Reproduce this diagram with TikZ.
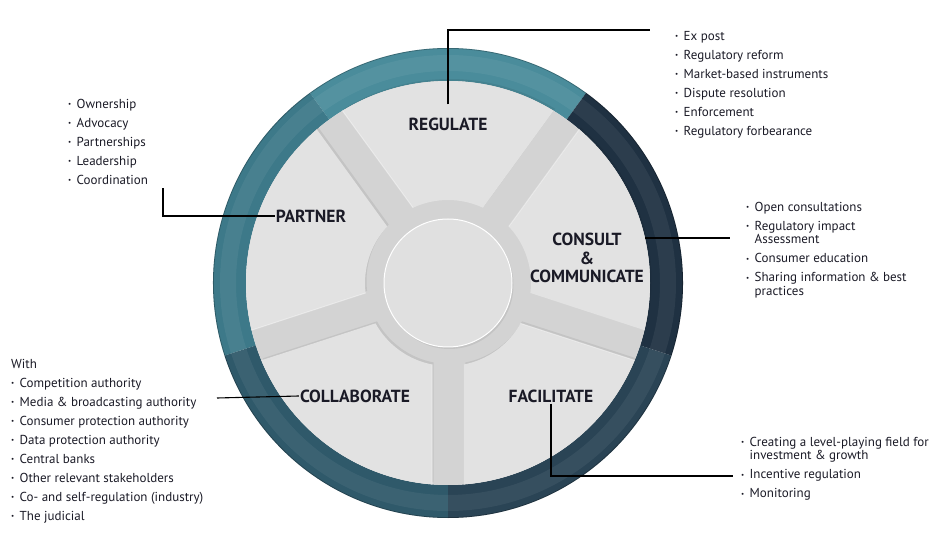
\documentclass[tikz,border=0pt]{standalone}
\usepackage{fontspec}
\setmainfont{PT Sans}
\usetikzlibrary{positioning}

\definecolor{ringA}{HTML}{4A8C9B}
\definecolor{ringB}{HTML}{3D7989}
\definecolor{ringC}{HTML}{2F596A}
\definecolor{ringD}{HTML}{2A4455}
\definecolor{ringE}{HTML}{1F3142}
\definecolor{segc}{HTML}{E2E2E2}
\definecolor{backc}{HTML}{D3D3D3}
\definecolor{centerc}{HTML}{E0E0E0}
\definecolor{txtc}{HTML}{1A1A26}

\newcommand{\bul}{\makebox[8.5pt][l]{\raisebox{0.25ex}{\fontsize{7}{7}\selectfont\textbullet}}}
\newcommand{\cont}{\hspace*{8.5pt}}

\tikzset{
  lbl/.style={font=\fontsize{17.5}{18.5}\selectfont\bfseries, text=txtc, align=center, inner sep=1pt},
  blist/.style={font=\fontsize{13}{19}\selectfont, text=txtc, align=left, inner sep=0pt, anchor=north west},
  lead/.style={line width=1.1pt, black},
}

\begin{document}
\begin{tikzpicture}[x=1pt,y=-1pt]
  \useasboundingbox (0,0) rectangle (930,545);

  % wheel
  \begin{scope}[shift={(448,283)}, yscale=-1]
    % outer ring, one shade per sector
    \foreach \a/\c in {54/ringA,126/ringB,198/ringC,270/ringD,342/ringE}
      \fill[\c] (\a:235) arc[start angle=\a, end angle=\a+72, radius=235] -- (\a+72:202) arc[start angle=\a+72, end angle=\a, radius=202] -- cycle;
    \fill[white, opacity=0.06, even odd rule] (0,0) circle (228) (0,0) circle (212);
    \draw[black, opacity=0.25, line width=0.8pt] (0,0) circle (234.6);
    % grey plate
    \fill[backc] (0,0) circle (202);
    % segments
    \foreach \a in {54,126,198,270,342} {
      \fill[black, opacity=0.07, xshift=1.5, yshift=-2] (\a+4.5:202) arc[start angle=\a+4.5, end angle=\a+67.5, radius=202] -- (\a+60.9:83) arc[start angle=\a+60.9, end angle=\a+11.1, radius=83] -- cycle;
      \fill[segc] (\a+4.5:202) arc[start angle=\a+4.5, end angle=\a+67.5, radius=202] -- (\a+60.9:83) arc[start angle=\a+60.9, end angle=\a+11.1, radius=83] -- cycle;
      \draw[white, opacity=0.4, line width=1pt] (\a+60.9:83) -- (\a+67.5:202);
    }
    % centre disc
    \fill[black, opacity=0.07] (1.5,-2) circle (64);
    \fill[centerc] (0,0) circle (64);
    \draw[white, line width=1pt] (0,0) circle (64);
  \end{scope}

  % labels
  \node[lbl] (regulate) at (448,124) {REGULATE};
  \node[lbl] (partner) at (311,216) {PARTNER};
  \node[lbl] (consult) at (587,258) {CONSULT\\\&\\COMMUNICATE};
  \node[lbl] (collab) at (355,396) {COLLABORATE};
  \node[lbl] (facil) at (551,396) {FACILITATE};

  % lists
  \node[blist] (regList) at (675,31) {\bul Ex post\\\bul Regulatory reform\\\bul Market-based instruments\\\bul Dispute resolution\\\bul Enforcement\\\bul Regulatory forbearance};
  \node[blist] (partList) at (68,99) {\bul Ownership\\\bul Advocacy\\\bul Partnerships\\\bul Leadership\\\bul Coordination};
  \node[blist] (consList) at (746,202) {\bul Open consultations\\\bul Regulatory impact\\[-5.5pt]\cont Assessment\\\bul Consumer education\\\bul Sharing information \& best\\[-5.5pt]\cont practices};
  \node[blist] (collList) at (11,359) {With\\\bul Competition authority\\\bul Media \& broadcasting authority\\\bul Consumer protection authority\\\bul Data protection authority\\\bul Central banks\\\bul Other relevant stakeholders\\\bul Co- and self-regulation (industry)\\\bul The judicial};
  \node[blist] (facList) at (741,437) {\bul Creating a level-playing field for\\[-5.5pt]\cont investment \& growth\\\bul Incentive regulation\\\bul Monitoring};

  % leaders
  \coordinate (regEnd) at (650,30);
  \coordinate (partEnd) at (163,188);
  \coordinate (consEnd) at (730,238);
  \coordinate (collEnd) at (217,398);
  \coordinate (facEnd) at (733,476);
  \draw[lead] ([yshift=12pt]regulate.north) |- (regEnd);
  \draw[lead] (partner.west) -| (partEnd);
  \draw[lead] (consEnd -| consult.east) -- (consEnd);
  \draw[lead] (collab.west) -- (collEnd);
  \draw[lead] (facil.south) |- (facEnd);
\end{tikzpicture}
\end{document}
